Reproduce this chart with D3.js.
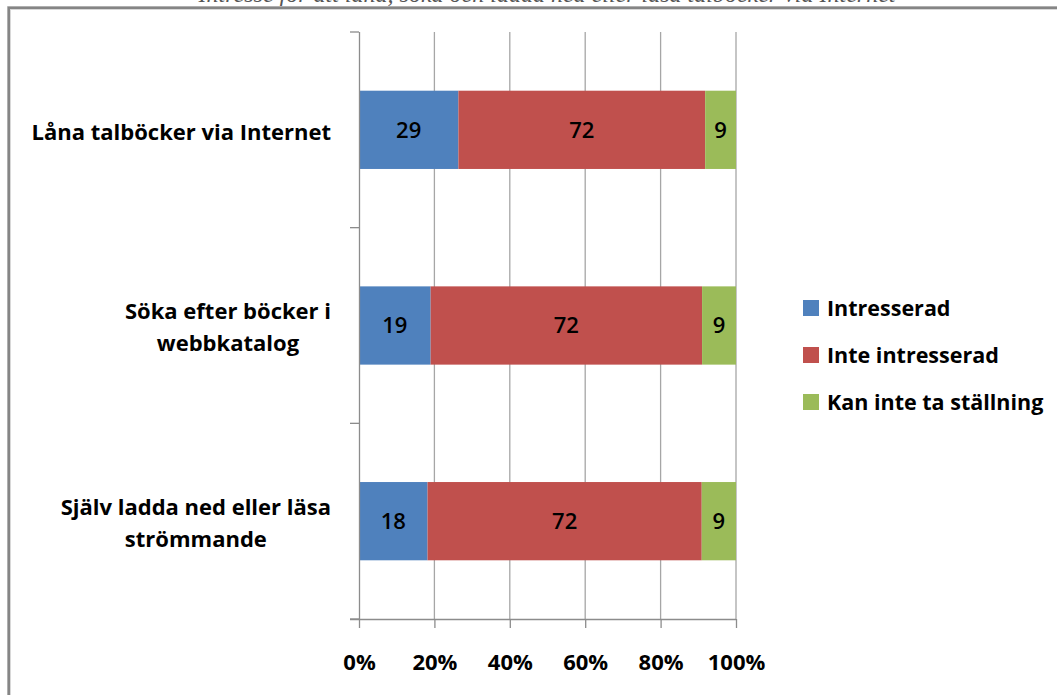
<!DOCTYPE html>
<html>
<head>
<meta charset="utf-8">
<script src="https://cdn.jsdelivr.net/npm/d3@7"></script>
<style>
  body { margin: 0; background: #fff; }
  svg { display: block; font-family: "Open Sans", Lato, sans-serif; }
</style>
</head>
<body>
<div id="chart"></div>
<script>
// data
var categories = ["Låna talböcker via Internet", "Söka efter böcker i webbkatalog", "Själv ladda ned eller läsa strömmande"];
var catLines = [["Låna talböcker via Internet"], ["Söka efter böcker i", "webbkatalog"], ["Själv ladda ned eller läsa", "strömmande"]];
var seriesNames = ["Intresserad", "Inte intresserad", "Kan inte ta ställning"];
var intresserad = [29, 19, 18];
var inteIntresserad = [72, 72, 72];
var kanInte = [9, 9, 9];
var xTicks = [0, 0.2, 0.4, 0.6, 0.8, 1];
var colors = ["#4F81BD", "#C0504D", "#9BBB59"];

var W = 1057, H = 695;
var svg = d3.select("#chart").append("svg")
  .attr("width", W).attr("height", H);

// title, cut off at the top like in the source
svg.append("text")
  .attr("x", 547).attr("y", 1.5)
  .attr("text-anchor", "middle")
  .style("font-family", "'Liberation Serif', serif")
  .style("font-style", "italic")
  .style("font-size", "24px")
  .attr("fill", "#555")
  .text("Intresse för att låna, söka och ladda ned eller läsa talböcker via Internet");

// frame
svg.append("rect")
  .attr("x", 9).attr("y", 8)
  .attr("width", W + 20).attr("height", H + 20)
  .attr("fill", "none").attr("stroke", "#d8d8d8").attr("stroke-width", 4);
svg.append("rect")
  .attr("x", 8.75).attr("y", 7.75)
  .attr("width", W + 20).attr("height", H + 20)
  .attr("fill", "none").attr("stroke", "#858585").attr("stroke-width", 2.5);

var x = d3.scaleLinear().domain([0, 1]).range([359, 736]);
var y = d3.scaleBand().domain(categories).range([32, 619])
  .paddingInner(0.6).paddingOuter(0.3);

// stacked, normalised to 100%
var rows = categories.map(function(c, i) {
  return { cat: c, vals: [intresserad[i], inteIntresserad[i], kanInte[i]] };
});

// gridlines
svg.selectAll(".grid")
  .data(xTicks.slice(1))
  .enter().append("line")
  .attr("x1", function(d) { return x(d); })
  .attr("x2", function(d) { return x(d); })
  .attr("y1", 32).attr("y2", 619)
  .attr("stroke", "#a6a6a6").attr("stroke-width", 1.3);

// bars
rows.forEach(function(r) {
  var total = d3.sum(r.vals);
  var acc = 0;
  r.vals.forEach(function(v, k) {
    var x0 = x(acc / total);
    acc += v;
    var x1 = x(acc / total);
    svg.append("rect")
      .attr("x", x0).attr("y", y(r.cat))
      .attr("width", x1 - x0).attr("height", y.bandwidth())
      .attr("fill", colors[k]);
    svg.append("text")
      .attr("x", (x0 + x1) / 2)
      .attr("y", y(r.cat) + y.bandwidth() / 2)
      .attr("dy", "0.36em")
      .attr("text-anchor", "middle")
      .style("font-size", "22px")
      .style("font-weight", "600")
      .attr("fill", "#000")
      .text(v);
  });
});

// y axis
var step = y.step();
var yAxis = svg.append("g");
yAxis.append("line")
  .attr("x1", 359.5).attr("x2", 359.5).attr("y1", 32).attr("y2", 619)
  .attr("stroke", "#8c8c8c").attr("stroke-width", 1.3);
yAxis.selectAll("line.tk")
  .data(d3.range(categories.length + 1))
  .enter().append("line")
  .attr("x1", 350).attr("x2", 359)
  .attr("y1", function(i) { return 32 + i * step; })
  .attr("y2", function(i) { return 32 + i * step; })
  .attr("stroke", "#8c8c8c").attr("stroke-width", 1.3);

// category labels
catLines.forEach(function(lines, i) {
  var cy = y(categories[i]) + y.bandwidth() / 2;
  var g = svg.append("g");
  var t = g.append("text")
    .attr("text-anchor", "middle")
    .style("font-size", "22px")
    .style("font-weight", "bold");
  lines.forEach(function(l, j) {
    t.append("tspan")
      .attr("x", 0)
      .attr("y", (j - (lines.length - 1) / 2) * 32)
      .attr("dy", "0.36em")
      .text(l);
  });
  var bb = t.node().getBBox();
  g.attr("transform", "translate(" + (331 - bb.width / 2) + "," + (cy + 2) + ")");
});

// x axis
var xAxis = svg.append("g")
  .attr("transform", "translate(0,619)")
  .call(d3.axisBottom(x).tickValues(xTicks).tickFormat(d3.format(".0%"))
    .tickSize(9).tickPadding(26).tickSizeOuter(0));
xAxis.select(".domain").attr("stroke", "#8c8c8c").attr("stroke-width", 1.3)
  .attr("d", "M350,0.5H736");
xAxis.selectAll(".tick line").attr("stroke", "#8c8c8c").attr("stroke-width", 1.3);
xAxis.selectAll(".tick text")
  .style("font-family", "'Open Sans', sans-serif")
  .style("font-size", "22px")
  .style("font-weight", "bold")
  .attr("fill", "#000");

// legend
var legend = svg.selectAll(".leg")
  .data(seriesNames)
  .enter().append("g")
  .attr("transform", function(d, i) { return "translate(803," + (300 + i * 47) + ")"; });
legend.append("rect")
  .attr("width", 16).attr("height", 16)
  .attr("fill", function(d, i) { return colors[i]; });
legend.append("text")
  .attr("x", 24).attr("y", 8).attr("dy", "0.36em")
  .style("font-size", "21.5px")
  .style("font-weight", "bold")
  .text(function(d) { return d; });
</script>
</body>
</html>
